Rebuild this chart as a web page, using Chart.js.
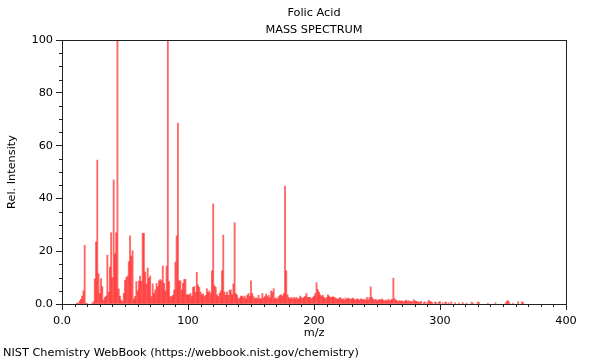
<!DOCTYPE html>
<html>
<head>
<meta charset="utf-8">
<script src="https://cdn.jsdelivr.net/npm/chart.js@4.4.0/dist/chart.umd.min.js"></script>
<style>
	html, body { margin: 0; padding: 0; background: #fff; }
</style>
</head>
<body>
<canvas id="CanvasSpectrum" width="600" height="360"></canvas>
<script>
var chartTitle = 'Folic Acid';
var chartSubtitle = 'MASS SPECTRUM';
var xAxisLabel = 'm/z';
var yAxisLabel = 'Rel. Intensity';
var footerText = 'NIST Chemistry WebBook (https://webbook.nist.gov/chemistry)';

// m/z values of the peaks and their relative intensity (%)
var massValues = [
	12, 13, 14, 15, 16, 17, 18, 19, 20, 24, 25, 26, 27, 28, 29, 30, 31, 32, 33, 34,
	35, 36, 37, 38, 39, 40, 41, 42, 43, 44, 45, 46, 47, 48, 49, 50, 51, 52, 53, 54,
	55, 56, 57, 58, 59, 60, 61, 62, 63, 64, 65, 66, 67, 68, 69, 70, 71, 72, 73, 74,
	75, 76, 77, 78, 79, 80, 81, 82, 83, 84, 85, 86, 87, 88, 89, 90, 91, 92, 93, 94,
	95, 96, 97, 98, 99, 100, 101, 102, 103, 104, 105, 106, 107, 108, 109, 110, 111, 112, 113, 114,
	115, 116, 117, 118, 119, 120, 121, 122, 123, 124, 125, 126, 127, 128, 129, 130, 131, 132, 133, 134,
	135, 136, 137, 138, 139, 140, 141, 142, 143, 144, 145, 146, 147, 148, 149, 150, 151, 152, 153, 154,
	155, 156, 157, 158, 159, 160, 161, 162, 163, 164, 165, 166, 167, 168, 169, 170, 171, 172, 173, 174,
	175, 176, 177, 178, 179, 180, 181, 182, 183, 184, 185, 186, 187, 188, 189, 190, 191, 192, 193, 194,
	195, 196, 197, 198, 199, 200, 201, 202, 203, 204, 205, 206, 207, 208, 209, 210, 211, 212, 213, 214,
	215, 216, 217, 218, 219, 220, 221, 222, 223, 224, 225, 226, 227, 228, 229, 230, 231, 232, 233, 234,
	235, 236, 237, 238, 239, 240, 241, 242, 243, 244, 245, 246, 247, 248, 249, 250, 251, 252, 253, 254,
	255, 256, 257, 258, 259, 260, 261, 262, 263, 264, 265, 266, 267, 268, 269, 270, 271, 272, 273, 274,
	275, 276, 277, 278, 279, 280, 281, 282, 283, 284, 285, 287, 288, 290, 291, 292, 293, 294, 296, 297,
	299, 300, 302, 304, 305, 307, 309, 312, 315, 318, 321, 325, 326, 330, 331, 338, 344, 352, 353, 354,
	355, 358, 362, 365, 366
];
var relIntensity = [
	0.4, 0.3, 1.2, 1.8, 3, 5, 22.2, 0.3, 0.2, 0.3, 0.9, 9.5, 23.5, 54.5, 11.5, 4, 9.6, 6.6, 1.5, 2.5,
	3, 18.5, 4.5, 14, 27, 10, 47, 19, 27, 100, 5.7, 3, 1.5, 1, 4, 9, 10, 10.6, 16, 25.8,
	18.2, 20.2, 1.8, 2.8, 8.5, 5, 8.7, 10.6, 8.6, 26.8, 26.8, 12.1, 7.6, 13.6, 9.8, 10.6, 2.8, 7.6, 4, 5.3,
	7.8, 6.6, 8.8, 9.3, 8.8, 14.4, 7.8, 5, 14.4, 100, 8.5, 2.8, 2.8, 3.3, 5.3, 15.9, 25.8, 68.5, 8.8, 8.8,
	5.3, 7.8, 9.3, 9.3, 3.5, 3.5, 3.5, 4, 2.8, 6.3, 6.6, 4.5, 12, 7.2, 6.3, 4.5, 3.5, 3.8, 2.8, 3.3,
	5.8, 4.4, 5, 4, 12.6, 37.9, 7, 6.3, 3.5, 2.8, 4, 5, 12.6, 26.1, 4.5, 3.3, 4.5, 3.3, 5.3, 5.3,
	3.5, 7.6, 30.8, 4, 3.3, 2, 2.3, 3, 3, 2.5, 3, 2, 3.3, 4, 3, 8.8, 4, 2.8, 2, 2.3,
	2, 3.3, 2, 2, 4, 2.3, 2.8, 3.8, 2.8, 3.3, 2.3, 5, 4.5, 5.8, 2, 2.3, 2, 2.8, 3.3, 3.5,
	3, 4, 44.7, 12.6, 3.5, 2.5, 2, 2.5, 2, 2.5, 2, 2.5, 2, 2, 3, 2.5, 2, 2.5, 3, 4,
	2.5, 2.5, 2.5, 2, 2.5, 3, 4, 8.1, 5.5, 4.5, 3.5, 3, 3.3, 2.5, 2, 2.5, 3.5, 3, 2.5, 2.5,
	2.8, 2.5, 2.3, 2, 1.8, 2.2, 2.5, 1.8, 2, 1.5, 2.3, 1.8, 2.2, 2, 1.8, 2, 2.2, 1.8, 1.5, 2,
	1.8, 1.5, 2, 1.8, 1.5, 1.8, 1.5, 2.5, 1.5, 2.4, 6.5, 2.5, 1.8, 1.5, 1.8, 1.2, 1.5, 1.8, 1.4, 2,
	1.5, 1.2, 1.5, 1.2, 1.8, 1.2, 1.5, 1.8, 9.8, 2, 1.5, 1.2, 1, 1.3, 1, 1.2, 0.8, 1.1, 1.5, 1,
	1.3, 0.8, 1, 0.6, 1.6, 1.2, 1, 0.9, 0.8, 0.6, 1, 0.6, 0.8, 0.6, 1.4, 1, 0.8, 0.5, 0.7, 0.6,
	0.7, 0.9, 0.5, 0.6, 0.7, 0.5, 0.8, 0.5, 0.4, 0.6, 0.4, 0.7, 0.4, 0.8, 0.5, 0.3, 0.5, 0.4, 1.0, 1.3,
	0.6, 0.3, 0.9, 0.8, 0.6
];
var xTickValues = [0, 100, 200, 300, 400];
var yTickValues = [0, 20, 40, 60, 80, 100];

var fontFamily = '"DejaVu Sans", sans-serif';
var fontSize = 11.3;

function $each(list, fn) {
	for (var i = 0; i < list.length; i++) fn(i, list[i]);
}

var points = [];
$each(massValues, function (index, mz) {
	points.push({ x: mz, y: relIntensity[index] });
});

// frame, minor ticks and texts
var spectrumDecor = {
	id: 'spectrumDecor',
	afterDraw: function (chart) {
		var ctx = chart.ctx;
		var area = chart.chartArea;
		var xScale = chart.scales.x;
		var yScale = chart.scales.y;
		ctx.save();
		ctx.strokeStyle = '#222';
		ctx.lineWidth = 1;
		ctx.strokeRect(Math.round(area.left) + 0.5, Math.round(area.top) + 0.5,
			Math.round(area.right - area.left), Math.round(area.bottom - area.top));

		// minor ticks
		ctx.beginPath();
		for (var v = 10; v < 400; v += 10) {
			if (v % 100 === 0) continue;
			var px = Math.round(xScale.getPixelForValue(v)) + 0.5;
			ctx.moveTo(px, area.bottom);
			ctx.lineTo(px, area.bottom + 3);
		}
		for (var w = 5; w < 100; w += 5) {
			if (w % 20 === 0) continue;
			var py = Math.round(yScale.getPixelForValue(w)) + 0.5;
			ctx.moveTo(area.left - 3, py);
			ctx.lineTo(area.left, py);
		}
		ctx.stroke();

		ctx.fillStyle = '#000';
		ctx.font = fontSize + 'px ' + fontFamily;
		ctx.textAlign = 'center';
		ctx.textBaseline = 'middle';
		var cx = (area.left + area.right) / 2;
		ctx.fillText(chartTitle, cx, 13);
		ctx.fillText(chartSubtitle, cx, 30);
		ctx.fillText(xAxisLabel, cx, 333);
		ctx.textAlign = 'left';
		ctx.fillText(footerText, 3, 353);
		ctx.translate(12, (area.top + area.bottom) / 2);
		ctx.rotate(-Math.PI / 2);
		ctx.textAlign = 'center';
		ctx.fillText(yAxisLabel, 0, 0);
		ctx.restore();
	}
};

const context = document.getElementById('CanvasSpectrum');
const myChart = new Chart(context, {
	type: 'bar',
	data: {
		datasets: [{
			data: points,
			backgroundColor: 'rgba(255, 0, 0, 0.6)',
			borderWidth: 0,
			barThickness: 1.2
		}]
	},
	options: {
		responsive: false,
		animation: false,
		layout: { padding: { left: 0, top: 40, right: 34, bottom: 0 } },
		plugins: {
			legend: { display: false },
			tooltip: { enabled: false },
			title: { display: false }
		},
		scales: {
			x: {
				type: 'linear',
				min: 0,
				max: 400,
				offset: false,
				grid: { offset: false, drawOnChartArea: false, tickLength: 6, color: '#222' },
				border: { color: '#222' },
				afterBuildTicks: function (scale) {
					scale.ticks = xTickValues.map(function (v) { return { value: v }; });
				},
				ticks: {
					color: '#000',
					font: { family: fontFamily, size: fontSize },
					maxRotation: 0,
					padding: 4,
					callback: function (value) { return value === 0 ? '0.0' : String(value); }
				},
				afterFit: function (scale) { scale.height = 56; }
			},
			y: {
				min: 0,
				max: 100,
				grid: { drawOnChartArea: false, tickLength: 6, color: '#222' },
				border: { color: '#222' },
				afterBuildTicks: function (scale) {
					scale.ticks = yTickValues.map(function (v) { return { value: v }; });
				},
				ticks: {
					color: '#000',
					font: { family: fontFamily, size: fontSize },
					padding: 3,
					callback: function (value) { return value === 0 ? '0.0' : String(value); }
				},
				afterFit: function (scale) { scale.width = 62; }
			}
		}
	},
	plugins: [spectrumDecor]
});
</script>
</body>
</html>
